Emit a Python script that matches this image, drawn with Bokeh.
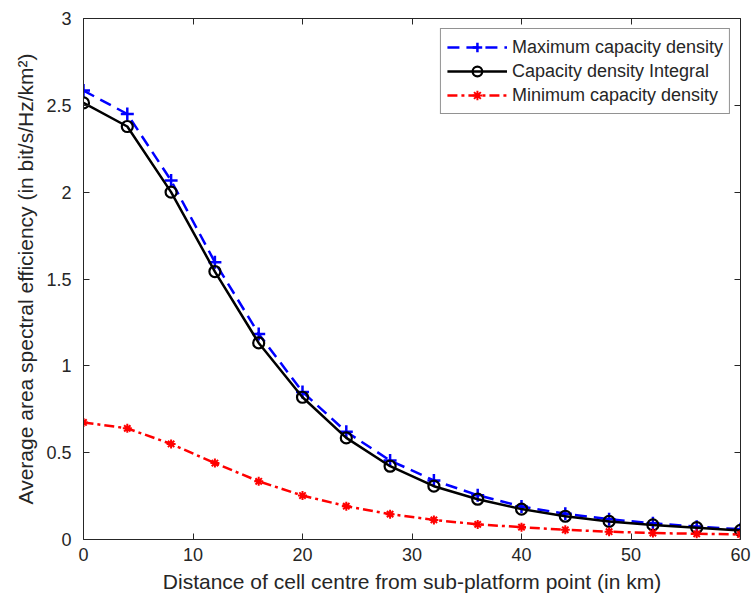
from bokeh.plotting import figure
from bokeh.models import Range1d, FixedTicker, LinearAxis, Legend, LegendItem
from bokeh.embed import file_html
from bokeh.resources import INLINE

distance = [0, 4, 8, 12, 16, 20, 24, 28, 32, 36, 40, 44, 48, 52, 56, 60]
max_density = [2.585, 2.45, 2.067, 1.597, 1.184, 0.85, 0.62, 0.455, 0.34, 0.255, 0.19, 0.148, 0.117, 0.093, 0.074, 0.059]
integral_density = [2.514, 2.378, 2.0, 1.543, 1.132, 0.819, 0.585, 0.422, 0.307, 0.232, 0.175, 0.134, 0.104, 0.084, 0.068, 0.052]
min_density = [0.674, 0.64, 0.55, 0.44, 0.335, 0.253, 0.192, 0.146, 0.113, 0.087, 0.071, 0.056, 0.045, 0.037, 0.033, 0.029]

x_ticks = [0, 10, 20, 30, 40, 50, 60]
y_ticks = [0, 0.5, 1, 1.5, 2, 2.5, 3]
y_tick_labels = ["0", "0.5", "1", "1.5", "2", "2.5", "3"]

FONT = "Liberation Sans"
AX = "#262626"

p = figure(width=752, height=600, output_backend="svg", toolbar_location=None,
           x_range=Range1d(0, 60), y_range=Range1d(0, 3),
           min_border_left=83, min_border_right=12, min_border_top=18, min_border_bottom=61)
p.grid.visible = False
p.outline_line_color = None

for ax in [p.xaxis[0], p.yaxis[0]]:
    ax.major_tick_in = 6
    ax.major_tick_out = 0
    ax.minor_tick_line_color = None
    ax.axis_line_color = AX
    ax.major_tick_line_color = AX
    ax.major_label_text_font = FONT
    ax.major_label_text_font_size = "18px"
    ax.major_label_text_color = AX
    ax.axis_label_text_font = FONT
    ax.axis_label_text_font_size = "21px"
    ax.axis_label_text_font_style = "normal"
    ax.axis_label_text_color = AX

p.xaxis[0].ticker = FixedTicker(ticks=x_ticks)
p.yaxis[0].ticker = FixedTicker(ticks=y_ticks)
p.yaxis[0].major_label_overrides = {t: l for t, l in zip(y_ticks, y_tick_labels)}
p.xaxis[0].axis_label = "Distance of cell centre from sub-platform point (in km)"
p.yaxis[0].axis_label = "Average area spectral efficiency (in bit/s/Hz/km\u00b2)"
p.xaxis[0].major_label_standoff = 8
p.yaxis[0].major_label_standoff = 12
p.xaxis[0].axis_label_standoff = 6
p.yaxis[0].axis_label_standoff = 6

top = LinearAxis(ticker=FixedTicker(ticks=x_ticks),
                 major_label_overrides={t: "" for t in x_ticks},
                 major_tick_in=6, major_tick_out=0, minor_tick_line_color=None,
                 axis_line_color=AX, major_tick_line_color=AX)
right = LinearAxis(ticker=FixedTicker(ticks=y_ticks),
                   major_label_overrides={t: "" for t in y_ticks},
                   major_tick_in=6, major_tick_out=0, minor_tick_line_color=None,
                   axis_line_color=AX, major_tick_line_color=AX)
p.add_layout(top, "above")
p.add_layout(right, "right")

l1 = p.line(distance, max_density, line_color="blue", line_width=2.5, line_dash="12 7")
m1 = p.scatter(distance, max_density, marker="cross", size=13, line_color="blue", line_width=2.5)
l2 = p.line(distance, integral_density, line_color="black", line_width=2.5)
m2 = p.scatter(distance, integral_density, marker="circle", size=11, line_color="black",
               fill_color=None, line_width=2.2)
l3 = p.line(distance, min_density, line_color="red", line_width=2.5, line_dash="10 4 3 4")
m3 = p.scatter(distance, min_density, marker="asterisk", size=9, line_color="red", line_width=2)

legend = Legend(items=[
    LegendItem(label="Maximum capacity density", renderers=[l1, m1]),
    LegendItem(label="Capacity density Integral", renderers=[l2, m2]),
    LegendItem(label="Minimum capacity density", renderers=[l3, m3]),
], location="top_right")
legend.label_text_font = FONT
legend.label_text_font_size = "18px"
legend.label_text_color = AX
legend.border_line_color = AX
legend.border_line_width = 1
legend.glyph_width = 60
legend.label_standoff = 5
legend.spacing = 0
legend.padding = 6
legend.margin = 10
legend.label_height = 24
legend.glyph_height = 24
p.add_layout(legend)

open("out.html", "w").write(file_html(p, INLINE))
